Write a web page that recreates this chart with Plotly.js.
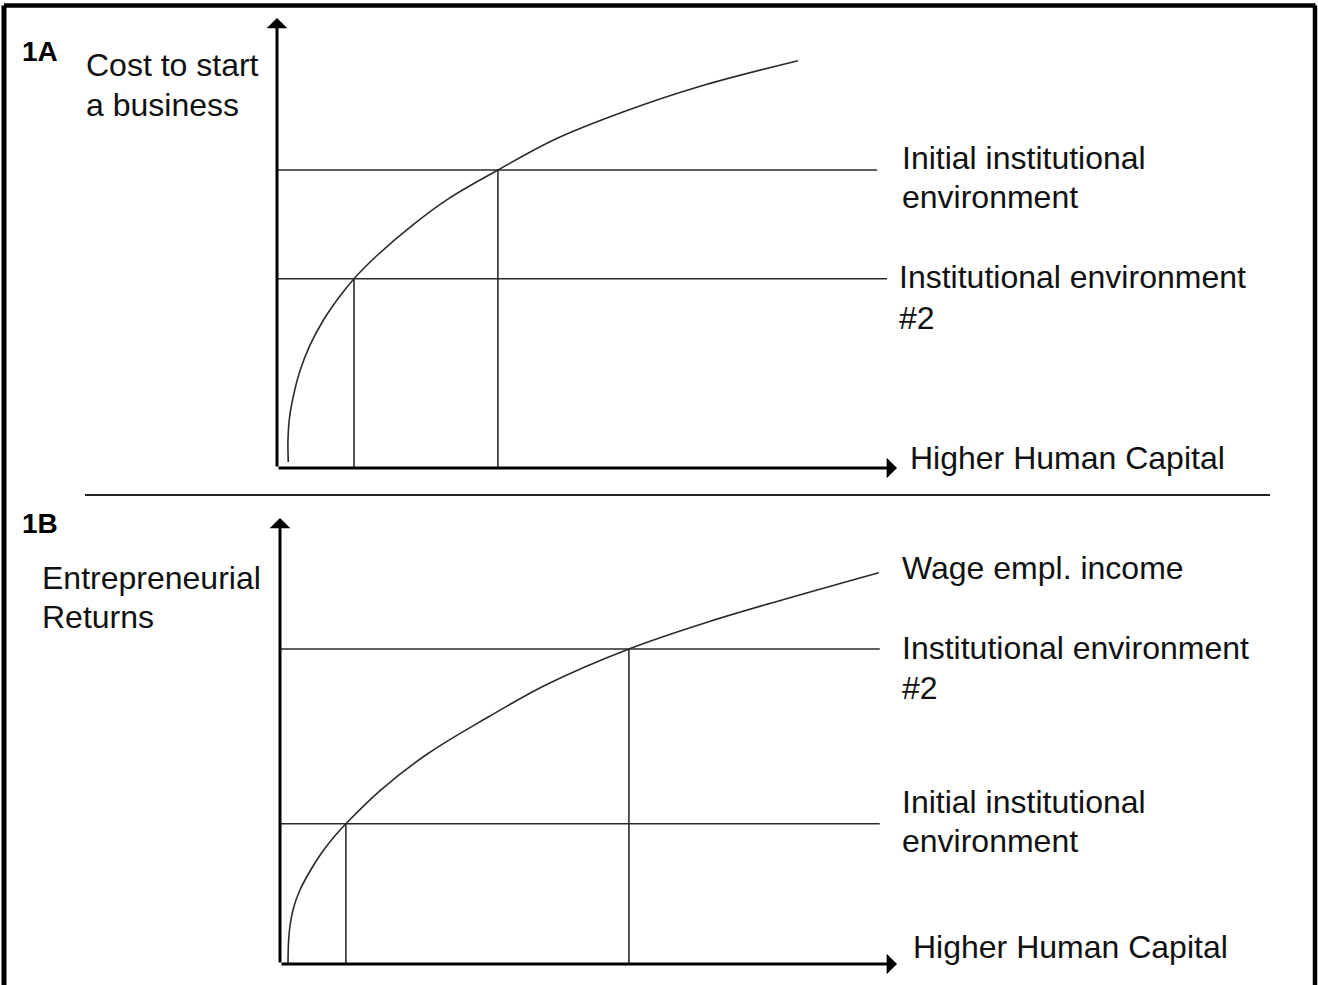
<!DOCTYPE html>
<html>
<head>
<meta charset="utf-8">
<script src="https://cdn.plot.ly/plotly-3.0.1.min.js"></script>
<style>
  html, body { margin: 0; padding: 0; background: #fff; }
  #chart { width: 1318px; height: 985px; }
</style>
</head>
<body>
<div id="chart"></div>
<script>
// ---------- DATA (axis units 0-100) ----------
// Panel 1A: cost to start a business vs. human capital
const curveA_x = [1.82, 1.77, 1.98, 2.63, 3.71, 5.32, 7.47, 10.16, 12.42, 16.13, 21.92, 27.68, 35.63, 44.95, 56.45, 68.0, 84.02];
const curveA_y = [1.33, 6.22, 10.78, 15.91, 21.6, 27.29, 32.84, 38.22, 42.07, 47.22, 54.04, 59.87, 66.22, 73.11, 79.44, 84.73, 90.51];
const levelA_names = ["Initial institutional<br>environment", "Institutional environment<br>#2"];
const levelA_values = [66.22, 42.07];
const levelA_cross = [35.63, 12.42];

// Panel 1B: entrepreneurial returns vs. human capital
const curveB_x = [1.30, 1.38, 1.62, 2.19, 3.16, 4.78, 6.73, 8.67, 10.68, 16.32, 24.0, 33.61, 43.23, 56.55, 68.85, 81.65, 97.03];
const curveB_y = [0.22, 4.93, 8.52, 12.56, 16.37, 20.63, 24.89, 28.36, 31.46, 39.01, 47.2, 55.27, 62.67, 70.63, 76.46, 81.73, 87.74];
const curveB_name = "Wage empl. income";
const levelB_names = ["Institutional environment<br>#2", "Initial institutional<br>environment"];
const levelB_values = [70.63, 31.46];
const levelB_cross = [56.55, 10.68];

const panel_names = ["1A", "1B"];
const yaxis_titles = ["Cost to start<br>a business", "Entrepreneurial<br>Returns"];
const xaxis_title = "Higher Human Capital";

// ---------- LAYOUT HELPERS ----------
const W = 1318, H = 985;
const px = v => v / W;
const py = v => (H - v) / H;
const lineEndA = [96.8, 98.4];
const lineEndB = [97.2, 97.2];
const FONT = "Liberation Sans, Arial, sans-serif";
const lineCol = "#2a2a2a";

const traces = [];
function addPanel(xa, ya, cx, cy, levels, cross, ends) {
  traces.push({ x: cx, y: cy, xaxis: xa, yaxis: ya, mode: "lines", type: "scatter",
    line: { color: lineCol, width: 1.6, shape: "spline", smoothing: 1.0 }, hoverinfo: "skip" });
  levels.forEach((lv, i) => {
    traces.push({ x: [0, ends[i]], y: [lv, lv], xaxis: xa, yaxis: ya, mode: "lines", type: "scatter",
      line: { color: lineCol, width: 1.6 }, hoverinfo: "skip" });
    traces.push({ x: [cross[i], cross[i]], y: [0, lv], xaxis: xa, yaxis: ya, mode: "lines", type: "scatter",
      line: { color: lineCol, width: 1.6 }, hoverinfo: "skip" });
  });
}
addPanel("x", "y", curveA_x, curveA_y, levelA_values, levelA_cross, lineEndA);
addPanel("x2", "y2", curveB_x, curveB_y, levelB_values, levelB_cross, lineEndB);

const hidden = { showgrid: false, zeroline: false, showticklabels: false, showline: false, ticks: "", fixedrange: true, range: [0, 100] };

function axisArrow(xr, yr, x, y) {
  return { xref: xr, yref: yr, axref: xr, ayref: yr, x: x, y: y, ax: 0, ay: 0, text: "",
    showarrow: true, arrowhead: 1, arrowsize: 1.15, arrowwidth: 3, arrowcolor: "#000", standoff: 0 };
}
function textItem(text, x, y, font) {
  return { xref: "paper", yref: "paper", x: px(x), y: py(y), text: text, showarrow: false,
    xanchor: "left", yanchor: "middle", align: "left",
    font: font || { family: FONT, size: 32, color: "#111" } };
}
// multi-line label: each line placed at its own centre line (pixel rows in lineYs)
function label(text, x, lineYs, font) {
  return text.split("<br>").map((t, i) => textItem(t, x, lineYs[i], font));
}
const boldFont = { family: FONT, size: 28, color: "#000", weight: "bold" };

const annotations = [
  axisArrow("x", "y", 100, 0), axisArrow("x", "y", 0, 100),
  axisArrow("x2", "y2", 100, 0), axisArrow("x2", "y2", 0, 100),
  ...label(panel_names[0], 20, [52], boldFont),
  ...label(panel_names[1], 20, [523], boldFont),
  ...label(yaxis_titles[0], 84, [65, 105]),
  ...label(yaxis_titles[1], 40, [578, 617]),
  ...label(levelA_names[0], 900, [158, 197]),
  ...label(levelA_names[1], 897, [277, 318]),
  ...label(xaxis_title, 908, [458]),
  ...label(curveB_name, 900, [568]),
  ...label(levelB_names[0], 900, [648, 688]),
  ...label(levelB_names[1], 900, [802, 841]),
  ...label(xaxis_title, 911, [947])
];

const shapes = [
  { type: "line", xref: "paper", yref: "paper", x0: px(4), x1: px(1315.5), y0: py(5.5), y1: py(5.5), line: { color: "#000", width: 4.5 } },
  { type: "line", xref: "paper", yref: "paper", x0: px(4), x1: px(4), y0: py(5.5), y1: py(990), line: { color: "#000", width: 5 } },
  { type: "line", xref: "paper", yref: "paper", x0: px(1315), x1: px(1315), y0: py(5.5), y1: py(990), line: { color: "#000", width: 4.5 } },
  { type: "line", xref: "paper", yref: "paper", x0: px(85), x1: px(1270), y0: py(495), y1: py(495), line: { color: "#222", width: 2.2 } }
];

const layout = {
  width: W, height: H,
  margin: { l: 0, r: 0, t: 0, b: 0 },
  paper_bgcolor: "#fff", plot_bgcolor: "rgba(0,0,0,0)",
  showlegend: false,
  xaxis: Object.assign({}, hidden, { domain: [px(277), px(897)], anchor: "y" }),
  yaxis: Object.assign({}, hidden, { domain: [py(468), py(18)], anchor: "x" }),
  xaxis2: Object.assign({}, hidden, { domain: [px(280), px(897)], anchor: "y2" }),
  yaxis2: Object.assign({}, hidden, { domain: [py(964), py(518)], anchor: "x2" }),
  annotations: annotations,
  shapes: shapes
};

Plotly.newPlot("chart", traces, layout, { staticPlot: true, displayModeBar: false });
</script>
</body>
</html>
